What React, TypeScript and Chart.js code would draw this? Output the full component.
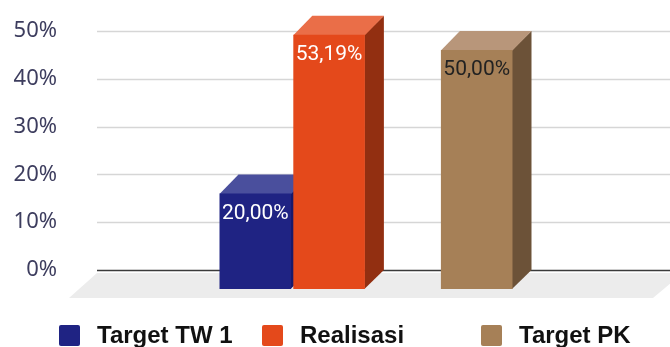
import React, { useEffect, useRef } from "react";
import { Chart, registerables } from "chart.js";

Chart.register(...registerables);

// ---- data ----
const categories = [""];
const seriesNames = ["Target TW 1", "Realisasi", "", "Target PK"];
const seriesValues: (number | null)[] = [20.0, 53.19, null, 50.0];
const yTicks = [0, 10, 20, 30, 40, 50];

// ---- styles ----
const frontColors = ["#1f2383", "#e4491b", "rgba(0,0,0,0)", "#a68057"];
const topColors = ["#4a4f9d", "#ea6e48", "", "#b8967a"];
const sideColors = ["#17196b", "#922f11", "", "#6c5238"];
const labelColors = ["#ffffff", "#ffffff", "", "#222222"];
const legendBoxX = [59, 262, 0, 481];

const D = 19; // 3D depth offset

const fmt = (v: number) => v.toFixed(2).replace(".", ",") + "%";

const threeD = {
  id: "threeD",
  beforeDatasetsDraw(chart: any) {
    const { ctx, chartArea: a } = chart;
    const y = chart.scales.y;
    const y0 = y.getPixelForValue(0);
    ctx.save();
    // floor
    ctx.fillStyle = "#ececec";
    ctx.beginPath();
    ctx.moveTo(a.left + D, y0 - 16);
    ctx.lineTo(a.right + D + 10, y0 - 16);
    ctx.lineTo(a.right - 1, y0 + 9);
    ctx.lineTo(a.left - 9, y0 + 9);
    ctx.closePath();
    ctx.fill();
    // back wall grid
    yTicks.forEach((v) => {
      const py = Math.round(y.getPixelForValue(v) - D) + 0.5;
      ctx.strokeStyle = v === 0 ? "#3a3a3a" : "#d6d6d6";
      ctx.lineWidth = 1.6;
      ctx.beginPath();
      ctx.moveTo(a.left + D, py);
      ctx.lineTo(a.right + D, py);
      ctx.stroke();
    });
    // sides and tops
    chart.data.datasets.forEach((ds: any, i: number) => {
      const meta = chart.getDatasetMeta(i);
      meta.data.forEach((bar: any, j: number) => {
        if (ds.data[j] == null) return;
        const { x, y: top, base, width } = bar.getProps(["x", "y", "base", "width"], true);
        const l = x - width / 2;
        const r = x + width / 2;
        ctx.fillStyle = sideColors[i];
        ctx.beginPath();
        ctx.moveTo(r - 0.5, top);
        ctx.lineTo(r + D, top - D);
        ctx.lineTo(r + D, base - D);
        ctx.lineTo(r - 0.5, base);
        ctx.closePath();
        ctx.fill();
        ctx.fillStyle = topColors[i];
        ctx.beginPath();
        ctx.moveTo(l, top + 0.5);
        ctx.lineTo(l + D, top - D);
        ctx.lineTo(r + D, top - D);
        ctx.lineTo(r, top + 0.5);
        ctx.closePath();
        ctx.fill();
      });
    });
    ctx.restore();
  },
  afterDatasetsDraw(chart: any) {
    const { ctx } = chart;
    ctx.save();
    ctx.font = "21px Roboto";
    ctx.textAlign = "center";
    ctx.textBaseline = "middle";
    chart.data.datasets.forEach((ds: any, i: number) => {
      const meta = chart.getDatasetMeta(i);
      meta.data.forEach((bar: any, j: number) => {
        const v = ds.data[j];
        if (v == null) return;
        const { x, y: top } = bar.getProps(["x", "y"], true);
        ctx.fillStyle = labelColors[i];
        ctx.fillText(fmt(v), x, top + 20);
      });
    });
    ctx.restore();
  },
  afterDraw(chart: any) {
    const { ctx } = chart;
    ctx.save();
    ctx.font = "bold 24px 'Liberation Sans', Arial, sans-serif";
    ctx.textBaseline = "alphabetic";
    ctx.textAlign = "left";
    seriesNames.forEach((name, i) => {
      if (!name) return;
      const bx = legendBoxX[i];
      ctx.fillStyle = frontColors[i];
      ctx.beginPath();
      (ctx as any).roundRect(bx, 325, 21, 21, 2);
      ctx.fill();
      ctx.fillStyle = "#111111";
      ctx.fillText(name, bx + 38, 343);
    });
    ctx.restore();
  },
};

export default function App() {
  const ref = useRef<HTMLCanvasElement | null>(null);
  useEffect(() => {
    if (!ref.current) return;
    const chart = new Chart(ref.current, {
      type: "bar",
      data: {
        labels: categories,
        datasets: seriesNames.map((name, i) => ({
          label: name,
          data: [seriesValues[i]],
          backgroundColor: frontColors[i],
          borderWidth: 0,
          categoryPercentage: 0.5125,
          barPercentage: 0.97,
          clip: false as any,
        })),
      },
      options: {
        animation: false,
        responsive: true,
        maintainAspectRatio: false,
        layout: { padding: { top: 50, right: 16, bottom: 58, left: 0 } },
        plugins: { legend: { display: false }, tooltip: { enabled: false } },
        scales: {
          x: { display: false },
          y: {
            min: 0,
            max: 50,
            afterFit: (s: any) => {
              s.width = 78;
            },
            grid: { display: false, drawTicks: false },
            border: { display: false },
            ticks: {
              stepSize: 10,
              padding: 21,
              labelOffset: -D,
              color: "#3d3d5e",
              font: { family: "'Noto Sans'", size: 22 },
              callback: (v: any) => v + "%",
            },
          },
        },
      },
      plugins: [threeD],
    });
    return () => chart.destroy();
  }, []);
  return (
    <div style={{ position: "fixed", left: 0, top: 0, width: 670, height: 347, background: "#fff" }}>
      <canvas ref={ref} />
    </div>
  );
}
